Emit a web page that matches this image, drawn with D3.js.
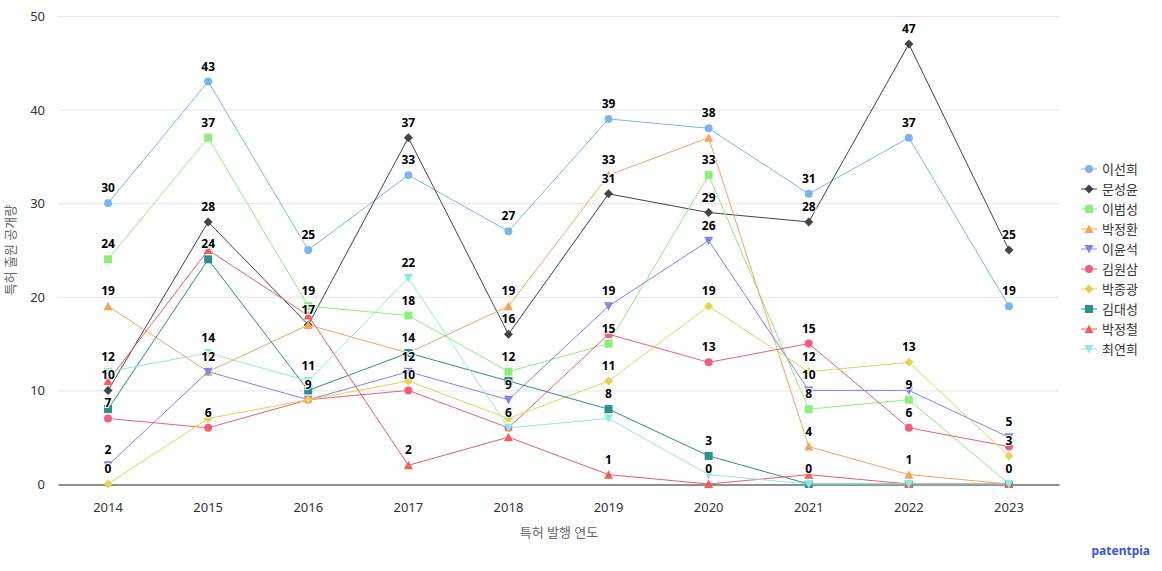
<!DOCTYPE html>
<html><head><meta charset="utf-8">
<script src="https://cdn.jsdelivr.net/npm/d3@7"></script>
<style>
body{margin:0;background:#fff;}
svg{font-family:"Noto Sans","Noto Sans CJK KR",sans-serif;}
</style></head>
<body>
<svg id="c" width="1162" height="571"></svg>
<script>
const years = ["2014","2015","2016","2017","2018","2019","2020","2021","2022","2023"];
const names = ["이선희","문성윤","이범성","박정환","이윤석","김원삼","박종광","김대성","박정철","최연희"];
const colors = ["#7cb5ec","#434348","#90ed7d","#f7a35c","#8085e9","#f15c80","#e4d354","#2b908f","#f45b5b","#91e8e1"];
const symbolsNames = ["circle","diamond","square","triangle","triangle-down"];
const s0 = [30,43,25,33,27,39,38,31,37,19];
const s1 = [10,28,17,37,16,31,29,28,47,25];
const s2 = [24,37,19,18,12,15,33,8,9,0];
const s3 = [19,12,17,14,19,33,37,4,1,0];
const s4 = [2,12,9,12,9,19,26,10,10,5];
const s5 = [7,6,9,10,6,16,13,15,6,4];
const s6 = [0,7,9,11,7,11,19,12,13,3];
const s7 = [8,24,10,14,11,8,3,0,0,0];
const s8 = [11,25,18,2,5,1,0,1,0,0];
const s9 = [12,14,11,22,6,7,1,0,0,0];
const seriesValues = [s0,s1,s2,s3,s4,s5,s6,s7,s8,s9];
const yTicks = [0,10,20,30,40,50];

const svg = d3.select("#c");
const x = d3.scaleBand().domain(years).range([58,1059]);
const y = d3.scaleLinear().domain([0,50]).range([484,16]);
const cx = d => x(d) + x.bandwidth()/2;

// grid
svg.append("g").selectAll("line").data(yTicks.filter(t=>t>0)).join("line")
  .attr("x1",58).attr("x2",1059).attr("y1",d=>y(d)+0.5).attr("y2",d=>y(d)+0.5)
  .attr("stroke","#e6e6e6").attr("stroke-width",1);
// y tick labels
svg.append("g").selectAll("text").data(yTicks).join("text")
  .attr("x",45).attr("y",d=>y(d)+5).attr("text-anchor","end")
  .attr("font-size",13).attr("fill","#333").text(d=>d);
// x axis
const xa = svg.append("g").attr("transform","translate(0,484.5)")
  .call(d3.axisBottom(x).tickSize(0).tickPadding(18));
xa.select(".domain").attr("stroke","#222").attr("stroke-width",1);
xa.selectAll("text").attr("font-size",13).attr("fill","#333").attr("font-family","Noto Sans, Noto Sans CJK KR, sans-serif");

// axis titles
svg.append("text").attr("x",559).attr("y",537).attr("text-anchor","middle")
  .attr("font-size",13).attr("fill","#666").text("특허 발행 연도");
svg.append("text").attr("transform","translate(15,250) rotate(-90)").attr("text-anchor","middle")
  .attr("font-size",13).attr("fill","#666").text("특허 출원 공개량");

function sym(i){
  const n = symbolsNames[i % 5];
  if(n==="circle") return d3.symbol(d3.symbolCircle, 50)();
  if(n==="square") return "M-4,-4H4V4H-4Z";
  if(n==="diamond") return "M0,-4.5L4.5,0L0,4.5L-4.5,0Z";
  if(n==="triangle") return "M0,-4.5L4.5,4L-4.5,4Z";
  return "M-4.5,-4L4.5,-4L0,4.5Z";
}

const line = d3.line().x((d,i)=>cx(years[i])).y(d=>y(d));
seriesValues.forEach((vals,si)=>{
  const g = svg.append("g");
  g.append("path").attr("d",line(vals)).attr("fill","none").attr("stroke",colors[si]).attr("stroke-width",1);
  g.selectAll("path.m").data(vals).join("path").attr("class","m")
    .attr("transform",(d,i)=>`translate(${cx(years[i])},${y(d)})`)
    .attr("d",sym(si)).attr("fill",colors[si]);
});

// data labels with overlap hiding (earlier series win)
const placed = [];
const labels = [];
seriesValues.forEach((vals,si)=>{
  vals.forEach((v,i)=>{
    const px = cx(years[i]), py = y(v) - 11;
    const w = String(v).length*7+2, h = 13;
    const box = {x0:px-w/2,x1:px+w/2,y0:py-h+2,y1:py+1};
    const hit = placed.some(b=>b.x0<box.x1&&b.x1>box.x0&&b.y0<box.y1&&b.y1>box.y0);
    if(!hit){placed.push(box);labels.push({px,py,v});}
  });
});
svg.append("g").selectAll("text").data(labels).join("text")
  .attr("x",d=>d.px).attr("y",d=>d.py).attr("text-anchor","middle")
  .attr("font-size",12).attr("font-weight","bold").attr("fill","#000")
  .attr("stroke","#fff").attr("stroke-width",2).attr("paint-order","stroke")
  .text(d=>d.v);

// legend
const lg = svg.append("g");
names.forEach((n,i)=>{
  const yy = 169 + i*20;
  lg.append("line").attr("x1",1081).attr("x2",1097).attr("y1",yy).attr("y2",yy).attr("stroke",colors[i]).attr("stroke-width",1);
  lg.append("path").attr("transform",`translate(1089,${yy})`).attr("d",sym(i)).attr("fill",colors[i]);
  lg.append("text").attr("x",1102).attr("y",yy+5).attr("font-size",13).attr("fill","#333")
    .attr("font-family","Noto Sans CJK KR, sans-serif").text(n);
});

svg.append("text").attr("x",1150).attr("y",555).attr("text-anchor","end")
  .attr("font-size",12).attr("font-weight","bold").attr("fill","#3a56d4").text("patentpia");
</script>
</body></html>
